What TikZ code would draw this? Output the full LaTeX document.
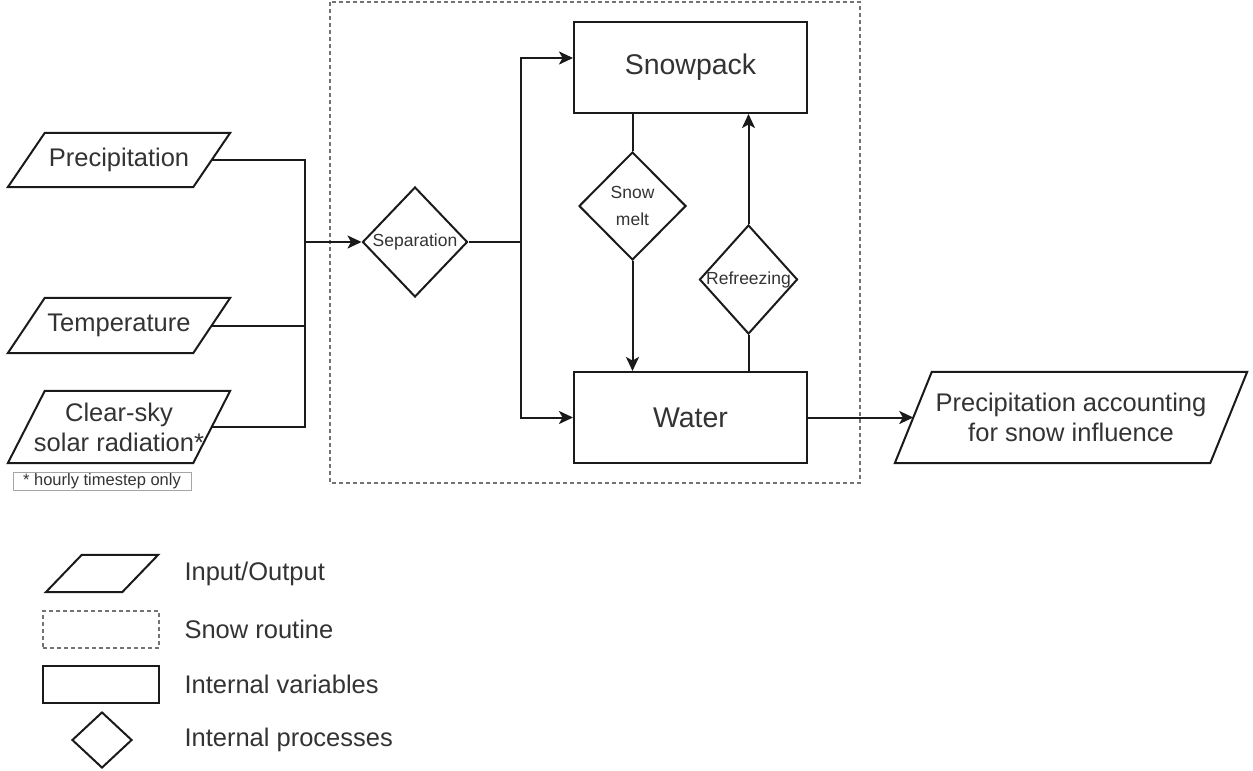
\documentclass[tikz,border=0pt]{standalone}
\usepackage{fontspec}
\setmainfont{Liberation Sans}
\usetikzlibrary{shapes.geometric,arrows.meta,calc}
\definecolor{txt}{HTML}{333333}
\definecolor{ln}{HTML}{1A1A1A}
\newcommand\iopar[2]{\draw[line] ($(#1.north west)+(#2,0)$) -- (#1.north east) -- ($(#1.south east)-(#2,0)$) -- (#1.south west) -- cycle;}
\begin{document}
\begin{tikzpicture}[x=1pt,y=-1pt,
  line/.style={line width=2pt, draw=ln},
  arr/.style={line, -{Stealth[length=14pt,width=13pt,inset=3.5pt]}},
  bigtxt/.style={text=txt, font=\fontsize{25.5}{30}\selectfont, align=center},
  hugetxt/.style={text=txt, font=\fontsize{28.5}{32}\selectfont, align=center},
  smalltxt/.style={text=txt, font=\fontsize{17.5}{27}\selectfont, align=center},
  iobox/.style={bigtxt, inner sep=0pt, minimum width=#1},
  varbox/.style={line, rectangle, inner sep=0pt},
  procbox/.style={line, diamond, inner sep=0pt},
  routine/.style={draw=black!55, line width=1.2pt, dash pattern=on 4pt off 3pt}
]
\useasboundingbox (0,0) rectangle (1253,771);

% snow routine
\draw[routine] (330,2) rectangle (860,483);

% inputs
\node[iobox=222, minimum height=54] (prec) at (119,160) {Precipitation};
\iopar{prec}{37}
\node[iobox=222, minimum height=55] (temp) at (119,325.5) {Temperature};
\iopar{temp}{37}
\node[iobox=222, minimum height=72] (rad) at (119,427) {Clear-sky\\solar radiation*};
\iopar{rad}{37}
\node[draw=black!35, line width=0.8pt, minimum width=178, minimum height=18, inner sep=0pt, text=txt,
      font=\fontsize{16.5}{18}\selectfont] (foot) at (102,481) {* hourly timestep only};

\coordinate (precR) at ($(prec.east)-(18.5,0)$);
\coordinate (tempR) at ($(temp.east)-(18.5,0)$);
\coordinate (radR) at ($(rad.east)-(18.5,0)$);
\coordinate (junc) at (305,242);

% processes and variables
\node[procbox, minimum width=105, minimum height=110] (sep) at (415,242) {};
\node[smalltxt] at (sep) {Separation};
\node[varbox, minimum width=233, minimum height=91, hugetxt] (snow) at (690.5,67.5) {Snowpack};
\node[varbox, minimum width=233, minimum height=91, hugetxt] (water) at (690.5,417.5) {Water};
\node[procbox, minimum width=107, minimum height=108] (melt) at (632.5,206) {};
\node[smalltxt] at (melt) {Snow\\melt};
\node[procbox, minimum width=98, minimum height=109] (refr) at (748.5,279.5) {};
\node[smalltxt] at (refr) {Refreezing};

% output
\node[iobox=352, minimum height=91] (out) at (1071,417.5) {Precipitation accounting\\for snow influence};
\iopar{out}{37}
\coordinate (outL) at ($(out.west)+(18.5,0)$);

% connectors
\draw[line] (precR) -| (junc);
\draw[line] (tempR) -| (junc);
\draw[line] (radR) -| (junc);
\draw[arr] (junc) -- (sep.west);
\coordinate (split) at (521,242);
\coordinate (snowIn) at ($(snow.west)+(0,-9.5)$);
\draw[line] (sep.east) -- (split);
\draw[arr] (split) |- (snowIn);
\draw[arr] (split) |- (water.west);
\draw[line] (melt.north |- snow.south) -- (melt.north);
\draw[arr] (melt.south) -- (melt.south |- water.north);
\draw[line] (refr.south |- water.north) -- (refr.south);
\draw[arr] (refr.north) -- (refr.north |- snow.south);
\draw[arr] (water.east) -- (outL);

% legend
\node[inner sep=0pt, minimum width=112, minimum height=37] (lgio) at (102,573.5) {};
\iopar{lgio}{36}
\node[bigtxt, anchor=west] (lgiot) at (181,574) {Input/Output};
\node[routine, minimum width=116, minimum height=37, inner sep=0pt] (lgrt) at (101,629.5) {};
\node[bigtxt, anchor=west] (lgrtt) at (181,629.5) {Snow routine};
\node[varbox, minimum width=116, minimum height=37] (lgvar) at (101,684.5) {};
\node[bigtxt, anchor=west] (lgvart) at (181,684.5) {Internal variables};
\node[procbox, minimum width=60, minimum height=56] (lgproc) at (102,740) {};
\node[bigtxt, anchor=west] (lgproct) at (181,740) {Internal processes};
\end{tikzpicture}
\end{document}
